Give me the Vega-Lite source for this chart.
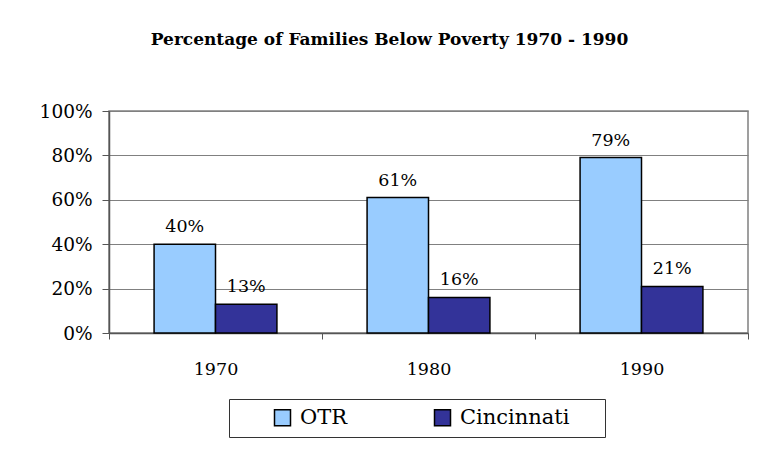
{
  "$schema": "https://vega.github.io/schema/vega-lite/v6.json",
  "width": 639,
  "height": 222,
  "autosize": {"type": "none"},
  "padding": {"left": 109, "top": 111, "right": 11, "bottom": 127},
  "background": "white",
  "config": {
    "view": {"stroke": "#808080", "strokeWidth": 1.5},
    "font": "DejaVu Serif"
  },
  "title": {
    "text": "Percentage of Families Below Poverty 1970 - 1990",
    "font": "DejaVu Serif",
    "fontSize": 17,
    "fontWeight": "bold",
    "color": "black",
    "anchor": "middle",
    "dx": -39,
    "offset": 40,
    "baseline": "alphabetic"
  },
  "data": {
    "values": [
      {"year": "1970", "series": "OTR", "value": 0.40},
      {"year": "1970", "series": "Cincinnati", "value": 0.13},
      {"year": "1980", "series": "OTR", "value": 0.61},
      {"year": "1980", "series": "Cincinnati", "value": 0.16},
      {"year": "1990", "series": "OTR", "value": 0.79},
      {"year": "1990", "series": "Cincinnati", "value": 0.21}
    ]
  },
  "encoding": {
    "x": {
      "field": "year",
      "type": "nominal",
      "scale": {"paddingInner": 0, "paddingOuter": 0},
      "axis": {
        "title": null,
        "labelAngle": 0,
        "tickBand": "extent",
        "tickSize": 6,
        "tickColor": "#555555",
        "domainColor": "#555555",
        "domainWidth": 1.5,
        "labelFont": "DejaVu Serif",
        "labelFontSize": 17.5,
        "labelColor": "black",
        "labelBaseline": "alphabetic",
        "labelPadding": 35
      }
    },
    "xOffset": {
      "field": "series",
      "type": "nominal",
      "sort": ["OTR", "Cincinnati"],
      "scale": {"paddingInner": 0, "paddingOuter": 0.734}
    },
    "y": {
      "field": "value",
      "type": "quantitative",
      "scale": {"domain": [0, 1]},
      "axis": {
        "title": null,
        "format": ".0%",
        "values": [0, 0.2, 0.4, 0.6, 0.8, 1],
        "tickSize": 7,
        "labelPadding": 10,
        "gridColor": "#808080",
        "tickColor": "#555555",
        "domainColor": "#555555",
        "domainWidth": 1.5,
        "labelFont": "DejaVu Serif",
        "labelFontSize": 18.5,
        "labelColor": "black"
      }
    }
  },
  "layer": [
    {
      "mark": {"type": "bar", "stroke": "black", "strokeWidth": 1.5},
      "encoding": {
        "color": {
          "field": "series",
          "type": "nominal",
          "sort": ["OTR", "Cincinnati"],
          "scale": {"range": ["#99CCFF", "#333399"]},
          "legend": {
            "title": null,
            "orient": "none",
            "legendX": 120,
            "legendY": 288,
            "direction": "horizontal",
            "symbolType": "square",
            "symbolSize": 256,
            "symbolStrokeColor": "black",
            "symbolStrokeWidth": 1.5,
            "symbolOpacity": 1,
            "strokeColor": "#333333",
            "padding": 8,
            "symbolOffset": 35,
            "labelOffset": 7,
            "columnPadding": 23,
            "labelExpr": "datum.label + '\u00a0\u00a0\u00a0\u00a0\u200b'",
            "labelFont": "DejaVu Serif",
            "labelFontSize": 21,
            "labelColor": "black"
          }
        }
      }
    },
    {
      "mark": {
        "type": "text",
        "baseline": "alphabetic",
        "dy": -12,
        "font": "DejaVu Serif",
        "fontSize": 17.5,
        "color": "black"
      },
      "encoding": {
        "text": {"field": "value", "type": "quantitative", "format": ".0%"}
      }
    }
  ]
}
